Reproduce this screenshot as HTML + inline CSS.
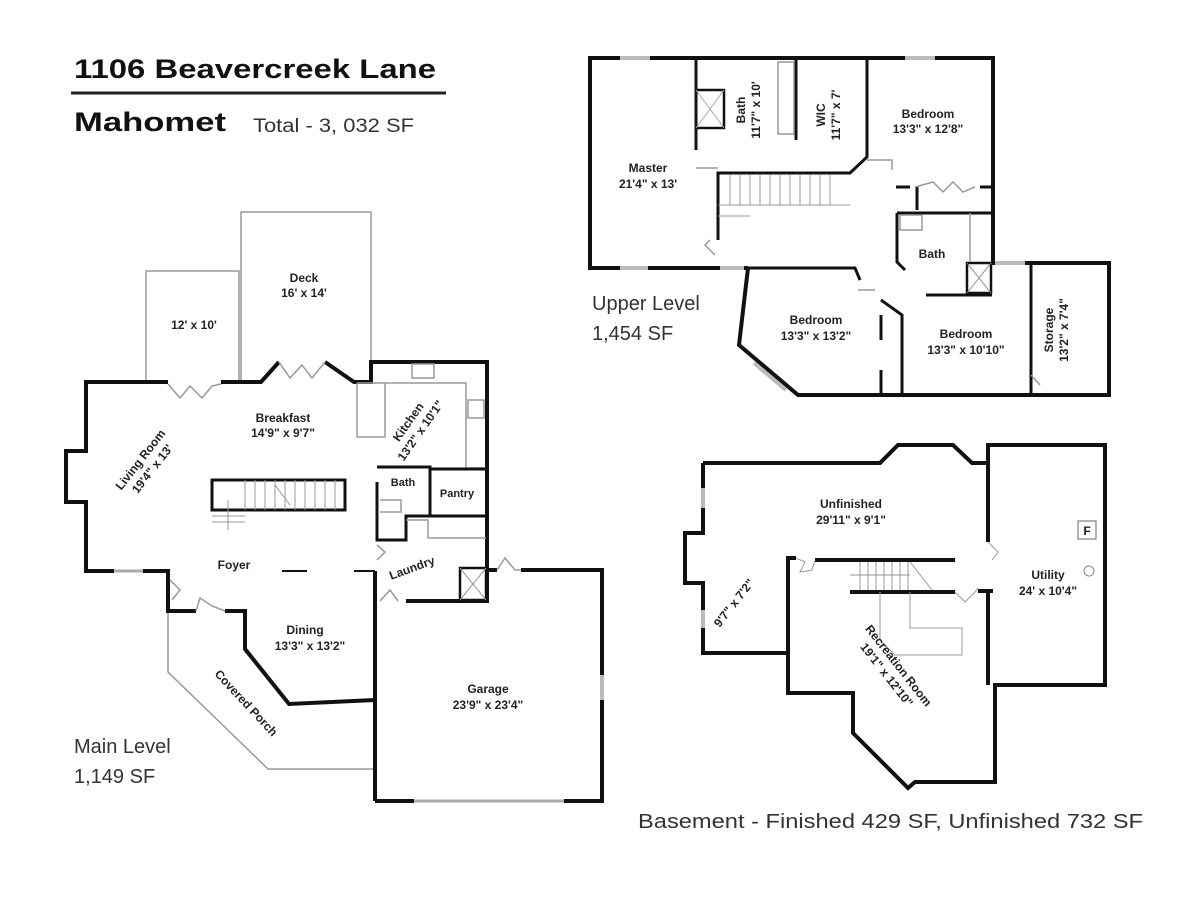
<!DOCTYPE html>
<html><head><meta charset="utf-8"><style>
html,body{margin:0;padding:0;background:#fff;}
svg{display:block;font-family:"Liberation Sans",Arial,sans-serif;}
.w{fill:none;stroke:#111;stroke-width:4;stroke-linejoin:miter;}
.g{fill:none;stroke:#999;stroke-width:1.5;}
.l{font-size:12px;font-weight:bold;fill:#222;text-anchor:middle;}
.big{font-size:20px;fill:#333;}
</style></head><body>
<svg width="1200" height="900" viewBox="0 0 1200 900">
<rect width="1200" height="900" fill="#fff"/>
<!-- title -->
<text x="74" y="78" font-size="27" font-weight="bold" fill="#111" textLength="362" lengthAdjust="spacingAndGlyphs">1106 Beavercreek Lane</text>
<line x1="71" y1="93" x2="446" y2="93" stroke="#222" stroke-width="3"/>
<text x="74" y="131" font-size="27" font-weight="bold" fill="#111" textLength="152" lengthAdjust="spacingAndGlyphs">Mahomet</text>
<text x="253" y="132" font-size="19" fill="#333" textLength="161" lengthAdjust="spacingAndGlyphs">Total - 3, 032 SF</text>

<!-- ========== MAIN LEVEL ========== -->
<!-- decks -->
<polyline class="g" points="146,382 146,271 239,271 239,382"/>
<polyline class="g" points="241,382 241,212 371,212 371,362"/>
<!-- porch -->
<polyline class="g" points="168,611 168,672 268,769 375,769"/>
<!-- outer walls -->
<polyline class="w" points="168,382 86,382 86,451 66,451 66,502 86,502 86,571 114,571"/>
<line x1="114" y1="571" x2="143" y2="571" stroke="#aaa" stroke-width="3"/>
<polyline class="w" points="143,571 168,571 168,611 196,611"/>
<polyline class="w" points="225,611 245,611 245,649 289,704 375,700"/>
<polyline class="w" points="221,382 261,382 279,362"/>
<polyline class="w" points="325,362 354,382 371,382 371,362 487,362 487,601 406,601"/>
<line x1="375" y1="571" x2="375" y2="801" stroke="#111" stroke-width="4"/>
<polyline class="w" points="414,801 375,801"/>
<line x1="414" y1="801" x2="564" y2="801" stroke="#aaa" stroke-width="3"/>
<polyline class="w" points="564,801 602,801 602,570 521,570"/>
<line x1="602" y1="675" x2="602" y2="700" stroke="#bbb" stroke-width="4"/>
<line x1="487" y1="570" x2="497" y2="570" stroke="#111" stroke-width="4"/>
<!-- deck doors -->
<polyline class="g" points="168,384 180,398 190,386 202,398 212,386 221,384"/>
<polyline class="g" points="279,362 290,378 302,365 312,378 325,362"/>
<!-- foyer dashes -->
<line x1="282" y1="571" x2="307" y2="571" stroke="#111" stroke-width="2"/>
<line x1="354" y1="571" x2="375" y2="571" stroke="#111" stroke-width="2"/>
<polyline class="g" points="196,611 200,598 212,606 225,611"/>
<polyline class="g" points="170,580 180,590 172,600"/>
<!-- stairs -->
<rect x="212" y="480" width="133" height="30" fill="none" stroke="#111" stroke-width="3"/>
<g stroke="#999" stroke-width="1">
<line x1="245" y1="480" x2="245" y2="510"/><line x1="255" y1="480" x2="255" y2="510"/><line x1="265" y1="480" x2="265" y2="510"/><line x1="275" y1="480" x2="275" y2="510"/><line x1="285" y1="480" x2="285" y2="510"/><line x1="295" y1="480" x2="295" y2="510"/><line x1="305" y1="480" x2="305" y2="510"/><line x1="315" y1="480" x2="315" y2="510"/><line x1="325" y1="480" x2="325" y2="510"/><line x1="335" y1="480" x2="335" y2="510"/>
<line x1="212" y1="516" x2="245" y2="516"/><line x1="212" y1="522" x2="245" y2="522"/><line x1="228" y1="500" x2="228" y2="530"/>
<line x1="275" y1="485" x2="290" y2="505"/>
</g>
<!-- kitchen -->
<polyline class="g" points="357,383 385,383 385,437 357,437 357,383"/>
<polyline class="g" points="385,383 466,383 466,468 486,468"/>
<rect x="412" y="364" width="22" height="14" class="g"/>
<rect x="468" y="400" width="16" height="18" class="g"/>
<!-- bath pantry laundry -->
<polyline class="w" style="stroke-width:3" points="377,467 430,467 430,516"/>
<polyline class="w" style="stroke-width:3" points="430,469 486,469"/>
<polyline class="w" style="stroke-width:3" points="377,482 377,540 406,540 406,516 486,516"/>
<polyline class="g" points="380,500 401,500 401,512 380,512"/>
<polyline class="g" points="406,520 428,520 428,538 486,538"/>
<rect x="460" y="568" width="26" height="32" fill="none" stroke="#111" stroke-width="2.5"/>
<line x1="460" y1="568" x2="486" y2="600" stroke="#999"/><line x1="486" y1="568" x2="460" y2="600" stroke="#999"/>
<polyline class="g" points="497,570 505,558 515,570 521,570"/>
<polyline class="g" points="377,545 385,552 377,560"/>
<polyline class="g" points="380,601 390,590 398,601"/>
<!-- main labels -->
<text class="l" x="283" y="422">Breakfast</text><text class="l" x="283" y="437">14'9" x 9'7"</text>
<text class="l" x="304" y="282">Deck</text><text class="l" x="304" y="297">16' x 14'</text>
<text class="l" x="194" y="329">12' x 10'</text>
<g transform="translate(146,464) rotate(-52)"><text class="l" x="0" y="-3">Living Room</text><text class="l" x="0" y="12">19'4" x 13'</text></g>
<g transform="translate(414,426) rotate(-55)"><text class="l" x="0" y="-3">Kitchen</text><text class="l" x="0" y="12">13'2" x 10'1"</text></g>
<text class="l" x="403" y="486" style="font-size:11px">Bath</text>
<text class="l" x="457" y="497" style="font-size:11px">Pantry</text>
<g transform="translate(412,568) rotate(-20)"><text class="l" x="0" y="4">Laundry</text></g>
<text class="l" x="234" y="569">Foyer</text>
<text class="l" x="305" y="634">Dining</text><text class="l" x="310" y="650">13'3" x 13'2"</text>
<text class="l" x="488" y="693">Garage</text><text class="l" x="488" y="709">23'9" x 23'4"</text>
<g transform="translate(246,703) rotate(47)"><text class="l" x="0" y="4">Covered Porch</text></g>
<text class="big" x="74" y="753">Main Level</text>
<text class="big" x="74" y="783">1,149 SF</text>

<!-- ========== UPPER LEVEL ========== -->
<polyline class="w" points="748,268 590,268 590,58 993,58 993,263 1109,263 1109,395 798,395 739,345 748,268"/>
<line x1="620" y1="58" x2="650" y2="58" stroke="#bbb" stroke-width="4"/>
<line x1="905" y1="58" x2="935" y2="58" stroke="#bbb" stroke-width="4"/>
<line x1="620" y1="268" x2="648" y2="268" stroke="#bbb" stroke-width="4"/>
<line x1="720" y1="268" x2="744" y2="268" stroke="#bbb" stroke-width="4"/>
<line x1="995" y1="263" x2="1025" y2="263" stroke="#bbb" stroke-width="4"/>
<line x1="754" y1="363" x2="786" y2="390" stroke="#bbb" stroke-width="4"/>
<g class="w" style="stroke-width:3">
<polyline points="696,58 696,150"/>
<polyline points="718,240 718,173 850,173 867,157 867,58"/>
<polyline points="796,58 796,140"/>
<polyline points="917,210 917,187"/>
<polyline points="896,187 910,187"/><polyline points="980,187 992,187"/>
<polyline points="897,213 992,213"/>
<polyline points="897,213 897,262 905,270"/>
<polyline points="926,295 992,295"/>
<polyline points="748,268 855,268 860,280"/>
<polyline points="881,300 902,315 902,393"/>
<polyline points="881,315 881,340"/><polyline points="881,370 881,393"/>
<polyline points="1031,263 1031,393"/>
</g>
<rect x="696" y="90" width="28" height="38" fill="none" stroke="#111" stroke-width="2.5"/>
<line x1="696" y1="90" x2="724" y2="128" stroke="#aaa"/><line x1="724" y1="90" x2="696" y2="128" stroke="#aaa"/>
<rect x="778" y="62" width="16" height="72" class="g"/>
<rect x="967" y="263" width="24" height="30" fill="none" stroke="#111" stroke-width="2.5"/>
<line x1="967" y1="263" x2="991" y2="293" stroke="#888"/><line x1="991" y1="263" x2="967" y2="293" stroke="#888"/>
<rect x="900" y="215" width="22" height="15" class="g"/>
<line x1="970" y1="213" x2="970" y2="262" class="g"/>
<g stroke="#999" stroke-width="1">
<line x1="730" y1="175" x2="730" y2="205"/><line x1="740" y1="175" x2="740" y2="205"/><line x1="750" y1="175" x2="750" y2="205"/><line x1="760" y1="175" x2="760" y2="205"/><line x1="770" y1="175" x2="770" y2="205"/><line x1="780" y1="175" x2="780" y2="205"/><line x1="790" y1="175" x2="790" y2="205"/><line x1="800" y1="175" x2="800" y2="205"/><line x1="810" y1="175" x2="810" y2="205"/><line x1="820" y1="175" x2="820" y2="205"/><line x1="830" y1="175" x2="830" y2="205"/>
<line x1="718" y1="205" x2="850" y2="205"/><line x1="718" y1="216" x2="750" y2="216"/>
</g>
<polyline class="g" points="696,168 718,168"/>
<polyline class="g" points="867,160 892,160 892,170"/>
<polyline class="g" points="915,187 933,182 943,192 953,182 963,192 975,187"/>
<polyline class="g" points="710,240 705,245 715,255"/>
<polyline class="g" points="858,290 875,290"/>
<polyline class="g" points="1031,375 1040,385"/>
<text class="l" x="648" y="172">Master</text><text class="l" x="648" y="188">21'4" x 13'</text>
<text class="l" x="928" y="118">Bedroom</text><text class="l" x="928" y="133">13'3" x 12'8"</text>
<g transform="translate(748,110) rotate(-90)"><text class="l" x="0" y="-3">Bath</text><text class="l" x="0" y="12">11'7" x 10'</text></g>
<g transform="translate(828,115) rotate(-90)"><text class="l" x="0" y="-3">WIC</text><text class="l" x="0" y="12">11'7" x 7'</text></g>
<text class="l" x="932" y="258">Bath</text>
<text class="l" x="816" y="324">Bedroom</text><text class="l" x="816" y="340">13'3" x 13'2"</text>
<text class="l" x="966" y="338">Bedroom</text><text class="l" x="966" y="354">13'3" x 10'10"</text>
<g transform="translate(1056,330) rotate(-90)"><text class="l" x="0" y="-3">Storage</text><text class="l" x="0" y="12">13'2" x 7'4"</text></g>
<text class="big" x="592" y="310">Upper Level</text>
<text class="big" x="592" y="340">1,454 SF</text>

<!-- ========== BASEMENT ========== -->
<polyline class="w" points="703,463 880,463 898,445 953,445 972,463 988,463 988,445 1105,445 1105,685 995,685 995,782 915,782 908,788 853,733 853,693 788,693 788,653 703,653 703,583 685,583 685,533 703,533 703,463"/>
<line x1="703" y1="488" x2="703" y2="508" stroke="#bbb" stroke-width="4"/>
<line x1="703" y1="610" x2="703" y2="628" stroke="#bbb" stroke-width="4"/>
<g class="w">
<polyline points="988,463 988,542"/>
<polyline points="988,590 988,685"/>
<polyline points="815,560 955,560"/>
<polyline points="850,592 955,592"/>
<polyline points="978,591 993,591"/>
<polyline points="788,653 788,558 796,558"/>
</g>
<g stroke="#999" stroke-width="1" fill="none">
<line x1="860" y1="562" x2="860" y2="590"/><line x1="868" y1="562" x2="868" y2="590"/><line x1="876" y1="562" x2="876" y2="590"/><line x1="884" y1="562" x2="884" y2="590"/><line x1="892" y1="562" x2="892" y2="590"/><line x1="900" y1="562" x2="900" y2="590"/><line x1="908" y1="562" x2="908" y2="590"/>
<line x1="850" y1="575" x2="910" y2="575"/><line x1="910" y1="562" x2="932" y2="590"/>
<polyline points="880,592 880,640 895,655 962,655 962,628 910,628 910,592"/>
<polyline points="796,558 805,562 800,572 812,570 815,560"/>
<polyline points="955,592 965,602 975,592 978,588"/>
<polyline points="988,542 998,552 992,560"/>
</g>
<rect x="1078" y="521" width="18" height="18" fill="none" stroke="#666"/>
<text x="1087" y="535" font-size="12" font-weight="bold" text-anchor="middle" fill="#222">F</text>
<circle cx="1089" cy="571" r="5" fill="none" stroke="#888"/>
<text class="l" x="851" y="508">Unfinished</text><text class="l" x="851" y="524">29'11" x 9'1"</text>
<text class="l" x="1048" y="579">Utility</text><text class="l" x="1048" y="595">24' x 10'4"</text>
<g transform="translate(734,603) rotate(-52)"><text class="l" x="0" y="4">9'7" x 7'2"</text></g>
<g transform="translate(893,670) rotate(52)"><text class="l" x="0" y="-3">Recreation Room</text><text class="l" x="0" y="12">19'1" x 12'10"</text></g>
<text x="638" y="828" font-size="20" fill="#333" textLength="505" lengthAdjust="spacingAndGlyphs">Basement - Finished 429 SF, Unfinished 732 SF</text>
</svg>
</body></html>
